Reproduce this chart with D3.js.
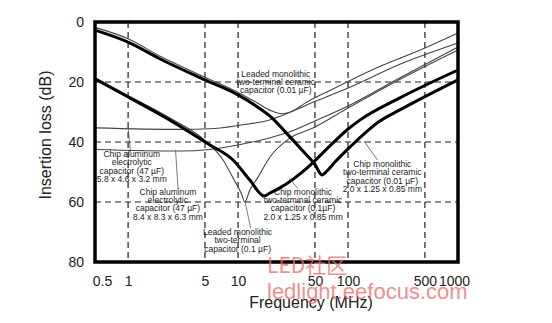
<!DOCTYPE html>
<html><head><meta charset="utf-8">
<script src="https://cdn.jsdelivr.net/npm/d3@7"></script>
<style>html,body{margin:0;padding:0;background:#fff;}svg{display:block;}</style>
</head><body><svg id="c" width="552" height="323"></svg>
<script>
// ---- data ----
const xTicks = [0.5, 1, 5, 10, 50, 100, 500, 1000];
const yTicks = [0, 20, 40, 60, 80];
const xGrid = [1, 5, 10, 50, 100, 500];
const yGrid = [20, 40, 60];
// [frequency MHz, insertion loss dB]
const chip001 = [[0.5,2.7],[1,6.7],[2,12.5],[5,19.3],[10,24.3],[15,28.3],[20,31.7],[27,36.7],[40,43.5],[50,47.5],[58,51],[65,49.5],[76,46.7],[104,41.7],[195,33],[296,29.3],[1000,19.3]];
const chip01 = [[0.5,19],[1,25],[2.4,32.7],[5.55,41],[9,46],[12.8,52.7],[17.2,58],[19.5,57],[24,55.3],[42.3,48.7],[68.5,41.3],[97.7,36],[128,32.7],[296,25.3],[1000,16]];
const leaded001 = [[0.5,1.8],[1,5.6],[2,11.6],[5,18.4],[10,23.5],[15,27],[20,29.6],[25,30.6],[32,29.5],[40,27.2],[68.5,22.8],[158,16.3],[500,8.7],[1000,3.7]];
const leaded01 = [[0.5,18.5],[1,24.5],[2.4,32],[5,39.5],[7.3,46],[9,52],[10.8,57.5],[11.5,60],[12.8,56],[15.2,51.7],[19.5,45],[29.6,38.7],[48,35.3],[100,28.7],[300,19],[1000,9.3]];
const elec58 = [[0.5,35.3],[3,35.8],[5.5,35.6],[10,34.5],[20,32.5],[30,30],[50,26.5],[100,22],[300,14],[1000,7]];
const elec84 = [[0.5,42.5],[3,43],[5.5,42.5],[10,41],[20,38.5],[30,36.5],[50,33],[100,28],[300,18.5],[1000,8.3]];

const labels = [
  {lines:["Leaded monolithic","two-terminal ceramic","capacitor (0.01 µF)"], f:22, db:18.2},
  {lines:["Chip aluminum","electrolytic","capacitor (47 µF)","5.8 x 4.6 x 3.2 mm"], f:1.08, db:45},
  {lines:["Chip aluminum","electrolytic","capacitor (47 µF)","8.4 x 8.3 x 6.3 mm"], f:2.3, db:57.6},
  {lines:["Leaded monolithic","two-terminal","capacitor (0.1 µF)"], f:9.9, db:71},
  {lines:["Chip monolithic","two-terminal ceramic","capacitor (0.1µF)","2.0 x 1.25 x 0.85 mm"], f:39, db:57.6},
  {lines:["Chip monolithic","two-terminal ceramic","capacitor (0.01 µF)","2.0 x 1.25 x 0.85 mm"], f:205, db:48.3}
];
const leaders = [
  [[1.0,35.2],[1.05,43.3]],
  [[2.7,42.7],[2.85,56]],
  [[11.6,60],[13,68.7]],
  [[29,52],[35,55.5]],
  [[140,39.7],[185,46]]
];

// ---- chart ----
const svg = d3.select("#c");
const x = d3.scaleLog().domain([0.5, 1000]).range([95, 458]);
const y = d3.scaleLinear().domain([0, 80]).range([22, 262]);
const FONT = "Liberation Sans, Arial, sans-serif";

const g = svg.append("g");
g.selectAll("line.vg").data(xGrid).join("line")
  .attr("x1", d => x(d)).attr("x2", d => x(d)).attr("y1", y(0)).attr("y2", y(80))
  .attr("stroke", "#222").attr("stroke-width", 1.2).attr("stroke-dasharray", "6,4");
g.selectAll("line.hg").data(yGrid).join("line")
  .attr("x1", x(0.5)).attr("x2", x(1000)).attr("y1", d => y(d)).attr("y2", d => y(d))
  .attr("stroke", "#222").attr("stroke-width", 1.2).attr("stroke-dasharray", "6,4");

const line = d3.line().x(d => x(d[0])).y(d => y(d[1])).curve(d3.curveMonotoneX);
const thin = [leaded001, leaded01, elec58, elec84];
g.selectAll("path.thin").data(thin).join("path")
  .attr("d", line).attr("fill", "none").attr("stroke", "#444").attr("stroke-width", 1.1);
g.selectAll("path.thick").data([chip001, chip01]).join("path")
  .attr("d", line).attr("fill", "none").attr("stroke", "#000").attr("stroke-width", 3);

const ll = d3.line().x(d => x(d[0])).y(d => y(d[1]));
g.selectAll("path.ld").data(leaders).join("path")
  .attr("d", ll).attr("fill", "none").attr("stroke", "#555").attr("stroke-width", 0.8);

labels.forEach(l => {
  const t = g.append("text").attr("text-anchor", "middle")
    .attr("font-family", FONT).attr("font-size", 8.5).attr("fill", "#222");
  l.lines.forEach((s, i) => {
    t.append("tspan").attr("x", x(l.f)).attr("y", y(l.db) + i * 8.3).text(s);
  });
});

// frame
g.append("rect").attr("x", x(0.5)).attr("y", y(0)).attr("width", x(1000) - x(0.5)).attr("height", y(80) - y(0))
  .attr("fill", "none").attr("stroke", "#000").attr("stroke-width", 3.5);

// axes
const xa = d3.axisBottom(x).tickValues(xTicks).tickSize(0).tickPadding(14).tickFormat(d3.format("~g"));
const xg = svg.append("g").attr("transform", `translate(0,${y(80)})`).call(xa);
xg.select(".domain").remove();
xg.selectAll("text").attr("font-family", FONT).attr("font-size", 14).attr("fill", "#222")
  .attr("dx", d => d === 0.5 ? 7 : (d === 1000 ? -4 : 0));
const ya = d3.axisLeft(y).tickValues(yTicks).tickSize(0).tickPadding(11).tickFormat(d3.format("d"));
const yg = svg.append("g").attr("transform", `translate(${x(0.5)},0)`).call(ya);
yg.select(".domain").remove();
yg.selectAll("text").attr("font-family", FONT).attr("font-size", 14).attr("fill", "#222");

svg.append("text").attr("x", 311).attr("y", 308).attr("text-anchor", "middle")
  .attr("font-family", FONT).attr("font-size", 16).attr("fill", "#222")
  .text("Frequency (MHz)");
svg.append("text").attr("transform", "translate(51,135) rotate(-90)").attr("text-anchor", "middle")
  .attr("font-family", FONT).attr("font-size", 16).attr("fill", "#222")
  .text("Insertion loss (dB)");

// watermark
svg.append("text").attr("x", 267).attr("y", 273).attr("font-family", "Noto Sans CJK SC, Liberation Sans, sans-serif")
  .attr("font-size", 21).attr("fill", "#ec6f6f").attr("fill-opacity", 0.8).text("LED社区");
svg.append("text").attr("x", 267).attr("y", 299).attr("font-family", "Liberation Sans, Arial, sans-serif")
  .attr("font-size", 22).attr("fill", "#ec6f6f").attr("fill-opacity", 0.8).text("ledlight.eefocus.com");
</script></body></html>
